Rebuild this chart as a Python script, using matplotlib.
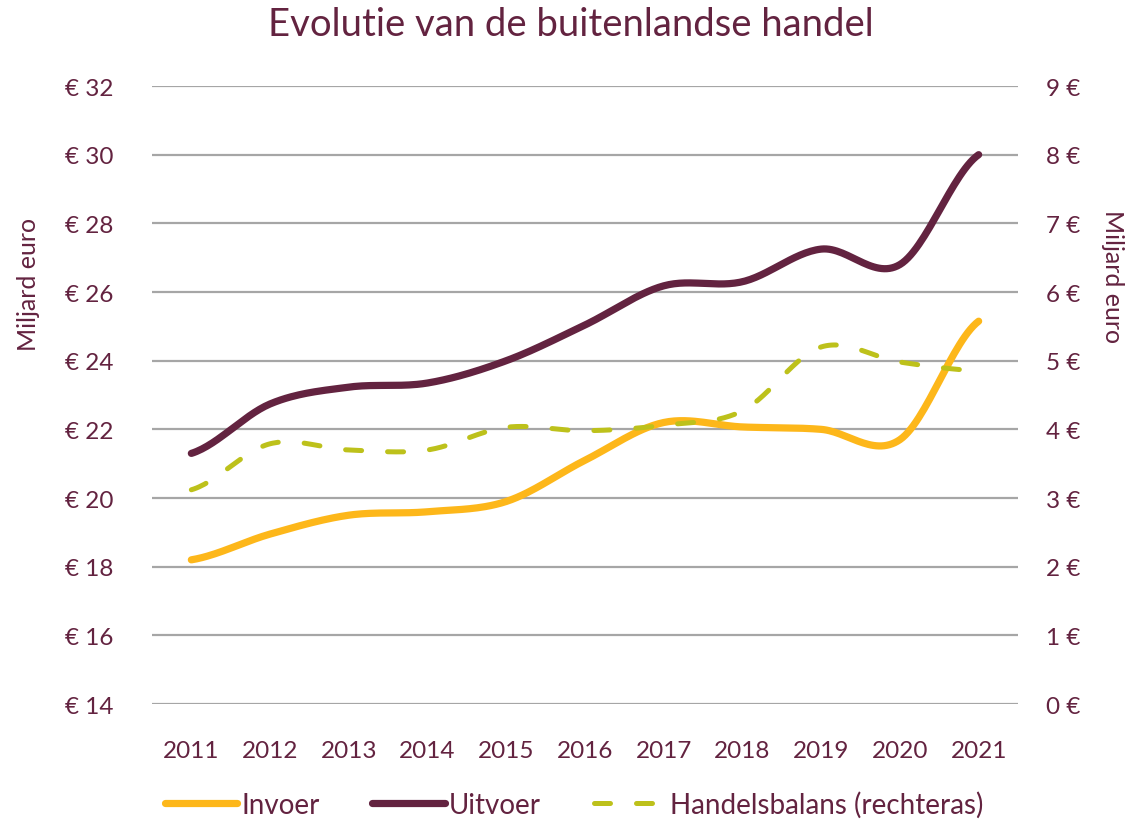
import numpy as np
import matplotlib
matplotlib.use("Agg")
import matplotlib.pyplot as plt
from matplotlib.lines import Line2D

years = ["2011", "2012", "2013", "2014", "2015", "2016", "2017", "2018", "2019", "2020", "2021"]
invoer = [18.2, 18.95, 19.5, 19.6, 19.9, 21.1, 22.2, 22.07, 22.0, 21.7, 25.15]
uitvoer = [21.3, 22.74, 23.23, 23.35, 24.0, 25.04, 26.18, 26.3, 27.25, 26.8, 30.0]
handelsbalans = [3.12, 3.79, 3.70, 3.70, 4.03, 3.98, 4.06, 4.27, 5.2, 4.98, 4.85]

left_ticks = [14, 16, 18, 20, 22, 24, 26, 28, 30, 32]
right_ticks = [0, 1, 2, 3, 4, 5, 6, 7, 8, 9]

MAROON = "#632340"
YELLOW = "#FDB71A"
OLIVE = "#BDC11B"
GRID = "#A6A6A6"

plt.rcParams['font.family'] = ['Lato', 'DejaVu Sans']


def smooth(y, n=30):
    """Catmull-Rom style smoothing like spreadsheet 'smoothed line'."""
    y = np.asarray(y, float)
    x = np.arange(len(y), dtype=float)
    xs, ys = [], []
    for i in range(len(y) - 1):
        p0 = y[i - 1] if i > 0 else y[i]
        p1, p2 = y[i], y[i + 1]
        p3 = y[i + 2] if i + 2 < len(y) else y[i + 1]
        c1 = p1 + (p2 - p0) / 6.0
        c2 = p2 - (p3 - p1) / 6.0
        t = np.linspace(0, 1, n, endpoint=(i == len(y) - 2))
        b = (1 - t) ** 3 * p1 + 3 * (1 - t) ** 2 * t * c1 + 3 * (1 - t) * t ** 2 * c2 + t ** 3 * p2
        xs.append(x[i] + t)
        ys.append(b)
    return np.concatenate(xs), np.concatenate(ys)


fig = plt.figure(figsize=(11.3, 8.2), dpi=100)
ax = fig.add_axes([0.1345, 0.1402, 0.9009 - 0.1345, 0.8939 - 0.1402])
ax2 = ax.twinx()

xs, ys = smooth(invoer)
ax.plot(xs, ys, color=YELLOW, lw=5.2, solid_capstyle='round', zorder=3)
xs, ys = smooth(uitvoer)
ax.plot(xs, ys, color=MAROON, lw=5.2, solid_capstyle='round', zorder=4)
xs, ys = smooth(handelsbalans)
ax2.plot(xs, ys, color=OLIVE, lw=3.6, dashes=(3.2, 5.2), dash_capstyle='round', zorder=3)

ax.set_xlim(-0.5, len(years) - 0.5)
ax.set_ylim(14, 32)
ax2.set_ylim(0, 9)
ax.set_yticks(left_ticks)
ax.set_yticklabels([f"€ {v}" for v in left_ticks])
ax2.set_yticks(right_ticks)
ax2.set_yticklabels([f"{v} €" for v in right_ticks])
ax.set_xticks(range(len(years)))
ax.set_xticklabels(years)

ax.grid(axis='y', color=GRID, lw=1.6)
ax.set_axisbelow(True)
for a in (ax, ax2):
    for s in a.spines.values():
        s.set_visible(False)
    a.tick_params(length=0, colors=MAROON, labelsize=17.5)
ax.tick_params(axis='y', pad=28)
ax2.tick_params(axis='y', pad=20)
ax.tick_params(axis='x', pad=26)

ax.set_ylabel("Miljard euro", color=MAROON, fontsize=18)
ax.yaxis.set_label_coords(-0.129, 0.681)
ax2.set_ylabel("Miljard euro", color=MAROON, fontsize=18, rotation=270)
ax2.yaxis.set_label_coords(1.122, 0.694)

fig.suptitle("Evolutie van de buitenlandse handel", color=MAROON, fontsize=27.5, x=0.505, y=0.992)

handles = [
    Line2D([], [], color=YELLOW, lw=5.2, solid_capstyle='round'),
    Line2D([], [], color=MAROON, lw=5.2, solid_capstyle='round'),
    Line2D([], [], color=OLIVE, lw=3.6, dashes=(3.2, 5.2), dash_capstyle='round'),
]
leg = fig.legend(handles, ["Invoer", "Uitvoer", "Handelsbalans (rechteras)"],
                 loc='center', bbox_to_anchor=(0.508, 0.018), ncol=3, frameon=False,
                 fontsize=20, handlelength=2.6, handletextpad=0.15, columnspacing=1.9)
for t in leg.get_texts():
    t.set_color(MAROON)

fig.savefig("out.png", dpi=100)
